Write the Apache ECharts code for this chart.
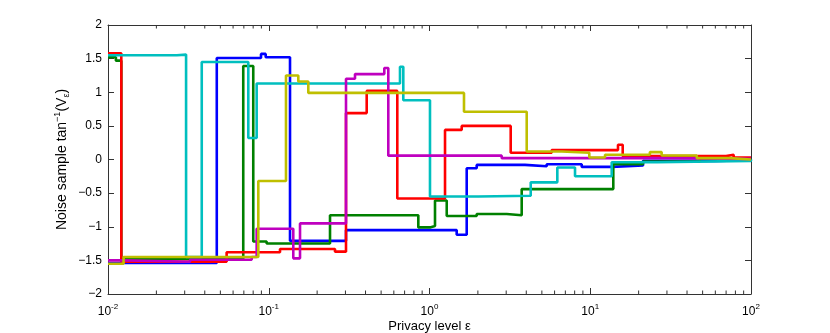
<!DOCTYPE html>
<html>
<head>
<meta charset="utf-8">
<script src="https://cdn.jsdelivr.net/npm/echarts@6/dist/echarts.min.js"></script>
<style>
  html, body { margin: 0; padding: 0; background: #fff; }
  #chart { width: 830px; height: 333px; }
</style>
</head>
<body>
<div id="chart"></div>
<script>
// step series, [privacy level, noise sample] - each value holds until the next point
const blueSteps = [
  [0.01, -1.54], [0.0475, 1.51], [0.0895, 1.57], [0.0957, 1.52], [0.1356, -1.21],
  [0.3024, -1.05], [1.476, -1.12], [1.704, -0.13], [1.966, -0.08], [3.927, -0.10],
  [5.36, -0.07], [8.85, -0.11], [13.6, -0.09], [21.3, -0.02], [60, -0.01], [100, -0.01]
];
const greenSteps = [
  [0.01, 1.52], [0.0112, 1.47], [0.0121, -1.48], [0.0694, 1.39], [0.0801, -1.22],
  [0.097, -1.25], [0.2405, -0.83], [0.852, -1.01], [1.007, -0.99], [1.082, -0.61],
  [1.28, -0.84], [1.966, -0.81], [3.022, -0.83], [3.746, -0.44], [13.91, -0.07],
  [21.3, -0.03], [48, 0.01], [100, 0.01]
];
const redSteps = [
  [0.01, 1.58], [0.0121, -1.52], [0.0547, -1.38], [0.1175, -1.33], [0.2583, -1.37],
  [0.3024, 0.69], [0.4067, 1.02], [0.6305, -0.58], [1.249, 0.44], [1.586, 0.50],
  [3.2, 0.10], [5.757, 0.14], [14.88, 0.22], [15.92, 0.05], [70, 0.07], [78, 0.03], [100, 0.03]
];
const cyanSteps = [
  [0.01, 1.55], [0.0268, 1.56], [0.0306, -1.45], [0.0383, 1.45], [0.0746, 0.32],
  [0.0841, 1.13], [0.6553, 1.38], [0.6871, 0.88], [1.007, -0.55], [2.012, -0.54],
  [4.263, -0.34], [6.24, -0.12], [8.04, -0.25], [13.6, -0.04], [26, -0.02], [100, 0.0]
];
const magentaSteps = [
  [0.01, -1.50], [0.0129, -1.52], [0.0324, -1.49], [0.0783, -1.45], [0.0841, -1.03],
  [0.1421, -1.47], [0.1565, -0.95], [0.3024, 1.20], [0.344, 1.27], [0.5234, 1.36],
  [0.5542, 0.057], [2.813, 0.02], [30, 0.01], [100, 0.0]
];
const yellowSteps = [
  [0.01, -1.55], [0.0125, -1.45], [0.0861, -0.32], [0.128, 1.25], [0.1527, 1.16],
  [0.1762, 0.99], [1.639, 0.71], [4.025, 0.12], [6.643, 0.10], [9.865, 0.03],
  [12.36, 0.07], [23.5, 0.11], [27.8, 0.06], [46, 0.02], [74, 0.0], [100, 0.0]
];
const seriesList = [blueSteps, greenSteps, redSteps, cyanSteps, magentaSteps, yellowSteps];
const colors = ['#0000FF', '#008000', '#FF0000', '#00BFBF', '#BF00BF', '#BFBF00'];

// minor ticks of the log axis (2..9 x 10^k)
const minorTicks = [];
[0.01, 0.1, 1, 10].forEach(function (d) {
  for (let m = 2; m <= 9; m++) minorTicks.push([+(m * d).toPrecision(3), 0]);
});

const axisColor = '#333';
const font = 'Liberation Sans, Arial, Helvetica, sans-serif';

const chart = echarts.init(document.getElementById('chart'), null, { renderer: 'canvas' });

const lineSeries = seriesList.map(function (d, i) {
  return {
    type: 'line',
    step: 'end',
    data: d,
    showSymbol: false,
    lineStyle: { color: colors[i], width: 2.6 },
    itemStyle: { color: colors[i] },
    z: 2 + i
  };
});

const option = {
  animation: false,
  backgroundColor: '#fff',
  textStyle: { fontFamily: font },
  grid: { left: 108, right: 79, top: 25, bottom: 39, containLabel: false, outerBoundsMode: 'none' },
  xAxis: [
    {
      type: 'log',
      logBase: 10,
      min: 0.01,
      max: 100,
      name: 'Privacy level ε',
      nameLocation: 'middle',
      nameGap: 26,
      nameMoveOverlap: false,
      nameTextStyle: { fontSize: 13, color: '#000', fontFamily: font },
      axisLine: { onZero: false, lineStyle: { color: axisColor } },
      axisTick: { inside: true, length: 6, lineStyle: { color: axisColor } },
      splitLine: { show: false },
      axisLabel: {
        color: '#000',
        fontSize: 12,
        lineHeight: 18,
        margin: 9,
        fontFamily: font,
        formatter: function (v) {
          const e = Math.round(Math.log10(v));
          return '10{sup|' + e + '}';
        },
        rich: { sup: { fontSize: 8, lineHeight: 8, verticalAlign: 'top', fontFamily: font } }
      }
    },
    {
      type: 'log',
      logBase: 10,
      min: 0.01,
      max: 100,
      position: 'top',
      axisLine: { onZero: false, lineStyle: { color: axisColor } },
      axisTick: { inside: true, length: 6, lineStyle: { color: axisColor } },
      axisLabel: { show: false },
      splitLine: { show: false }
    }
  ],
  yAxis: [
    {
      type: 'value',
      min: -2,
      max: 2,
      interval: 0.5,
      name: 'Noise sample tan{sup|−1}(V{sub|ε})',
      nameLocation: 'middle',
      nameGap: 37,
      nameMoveOverlap: false,
      nameRotate: 90,
      nameTextStyle: {
        fontSize: 14,
        lineHeight: 18,
        color: '#000',
        fontFamily: font,
        rich: {
          sup: { fontSize: 9, lineHeight: 9, verticalAlign: 'top', color: '#000', fontFamily: font },
          sub: { fontSize: 9, lineHeight: 9, verticalAlign: 'bottom', color: '#000', fontFamily: font }
        }
      },
      axisLine: { show: true, onZero: false, lineStyle: { color: axisColor } },
      axisTick: { show: true, inside: true, length: 6, lineStyle: { color: axisColor } },
      splitLine: { show: false },
      axisLabel: {
        color: '#000',
        fontSize: 12,
        margin: 6,
        fontFamily: font,
        formatter: function (v) { return v < 0 ? '−' + (-v) : String(v); }
      }
    },
    {
      type: 'value',
      min: -2,
      max: 2,
      interval: 0.5,
      position: 'right',
      axisLine: { show: true, onZero: false, lineStyle: { color: axisColor } },
      axisTick: { show: true, inside: true, length: 6, lineStyle: { color: axisColor } },
      axisLabel: { show: false },
      splitLine: { show: false }
    }
  ],
  series: lineSeries.concat([{
    type: 'custom',
    silent: true,
    z: 20,
    data: minorTicks,
    renderItem: function (params, api) {
      const x = api.coord([api.value(0), 0])[0];
      const top = params.coordSys.y;
      const bottom = top + params.coordSys.height;
      const st = { stroke: axisColor, lineWidth: 1 };
      return {
        type: 'group',
        children: [
          { type: 'line', shape: { x1: x, y1: bottom, x2: x, y2: bottom - 3.5 }, style: st },
          { type: 'line', shape: { x1: x, y1: top, x2: x, y2: top + 3.5 }, style: st }
        ]
      };
    }
  }])
};

chart.setOption(option);
</script>
</body>
</html>
